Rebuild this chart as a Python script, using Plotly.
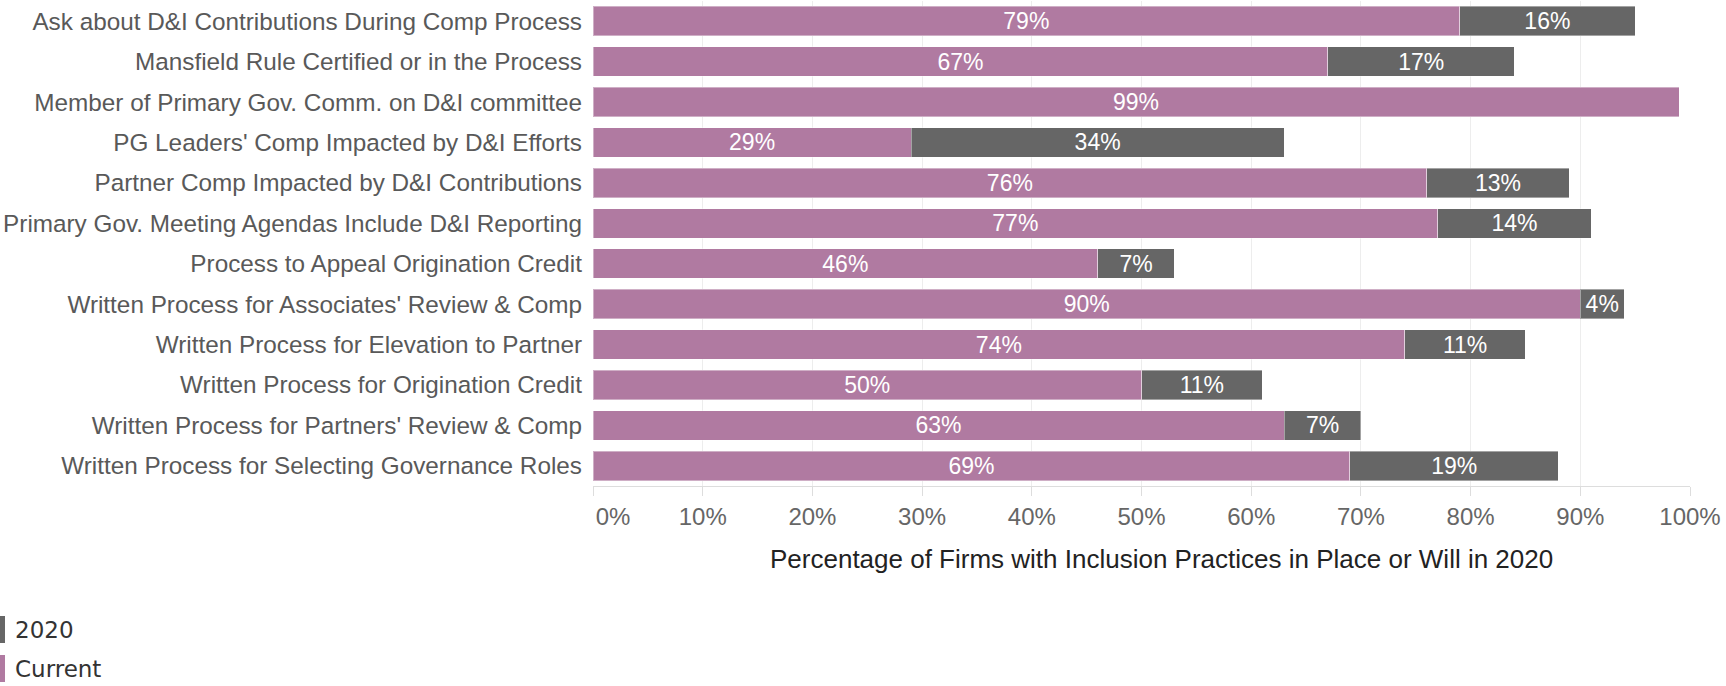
import plotly.graph_objects as go

# Inclusion practices, listed top to bottom
practices = [
    "Ask about D&I Contributions During Comp Process",
    "Mansfield Rule Certified or in the Process",
    "Member of Primary Gov. Comm. on D&I committee",
    "PG Leaders' Comp Impacted by D&I Efforts",
    "Partner Comp Impacted by D&I Contributions",
    "Primary Gov. Meeting Agendas Include D&I Reporting",
    "Process to Appeal Origination Credit",
    "Written Process for Associates' Review & Comp",
    "Written Process for Elevation to Partner",
    "Written Process for Origination Credit",
    "Written Process for Partners' Review & Comp",
    "Written Process for Selecting Governance Roles",
]

# Share of firms (%) with the practice in place now, and planned for 2020
current_pct = [79, 67, 99, 29, 76, 77, 46, 90, 74, 50, 63, 69]
planned_2020_pct = [16, 17, 0, 34, 13, 14, 7, 4, 11, 11, 7, 19]

tick_values = [0, 10, 20, 30, 40, 50, 60, 70, 80, 90, 100]
tick_labels = [f"{v}%" for v in tick_values]

series_colors = {"Current": "#b07aa1", "2020": "#666666"}

W, H = 1726, 686
M_L, M_R, M_T, M_B = 593, 36, 1, 200
PLOT_W = W - M_L - M_R
PLOT_H = H - M_T - M_B


def paper_x(px):
    return (px - M_L) / PLOT_W


def paper_y(py):
    return (H - M_B - py) / PLOT_H


FONT = "Liberation Sans, Arial, Helvetica, sans-serif"

fig = go.Figure()
for name, vals in (("Current", current_pct), ("2020", planned_2020_pct)):
    fig.add_trace(go.Bar(
        name=name,
        y=practices,
        x=vals,
        orientation="h",
        marker=dict(color=series_colors[name],
                    line=dict(color="rgba(255,255,255,0.4)", width=1)),
        text=[f"{v}%" if v else "" for v in vals],
        texttemplate="%{text}",
        textposition="inside",
        insidetextanchor="middle",
        textangle=0,
        constraintext="none",
        textfont=dict(family=FONT, size=23, color="white"),
        showlegend=False,
    ))

# first tick label sits flush with the left end of the axis
tick_text = list(tick_labels)
tick_text[0] = "\u00a0" * 6 + tick_text[0]

fig.update_layout(
    width=W, height=H,
    margin=dict(l=M_L, r=M_R, t=M_T, b=M_B),
    barmode="stack",
    bargap=0.27,
    plot_bgcolor="white",
    paper_bgcolor="white",
    font=dict(family=FONT),
    xaxis=dict(
        range=[0, 100],
        tickvals=tick_values,
        ticktext=tick_text,
        tickfont=dict(family=FONT, size=24, color="#666666"),
        showgrid=True, gridcolor="#ededed", gridwidth=1,
        showline=True, linecolor="#dddddd", linewidth=1,
        ticks="outside", ticklen=9, tickcolor="#dddddd",
        zeroline=False,
        fixedrange=True,
    ),
    yaxis=dict(
        categoryorder="array",
        categoryarray=practices,
        range=[len(practices) - 0.5, -0.5],
        tickfont=dict(family=FONT, size=24.3, color="#595959"),
        ticks="",
        ticklabelstandoff=10,
        showgrid=False,
        showline=False,
        zeroline=False,
        fixedrange=True,
    ),
)

# axis title
fig.add_annotation(
    text="Percentage of Firms with Inclusion Practices in Place or Will in 2020",
    xref="paper", yref="paper",
    x=paper_x(1161), y=paper_y(559),
    xanchor="center", yanchor="middle",
    showarrow=False,
    font=dict(family=FONT, size=26, color="#222222"),
)

# legend drawn as swatches with labels under the chart
legend_rows = [("2020", 616, 643), ("Current", 655, 682)]
for name, top, bottom in legend_rows:
    fig.add_shape(
        type="rect", xref="paper", yref="paper",
        x0=paper_x(0), x1=paper_x(5),
        y0=paper_y(bottom), y1=paper_y(top),
        fillcolor=series_colors[name], line=dict(width=0),
    )
    fig.add_annotation(
        text=name, xref="paper", yref="paper",
        x=paper_x(13), y=paper_y((top + bottom) / 2),
        xanchor="left", yanchor="middle", showarrow=False,
        font=dict(family="DejaVu Sans, sans-serif", size=23, color="#333333"),
    )

fig.write_html("out.html")
